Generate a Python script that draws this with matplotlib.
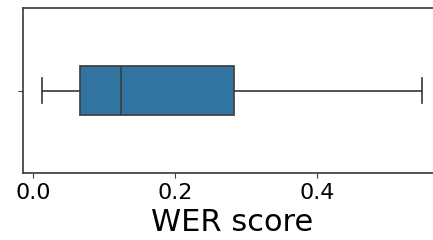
import matplotlib
matplotlib.use("Agg")
import matplotlib.pyplot as plt

# box statistics of the WER scores
label = "WER score"
whislo = 0.0127
q1 = 0.0666
med = 0.1244
q3 = 0.2830
whishi = 0.5480

stats = [dict(whislo=whislo, q1=q1, med=med, q3=q3, whishi=whishi, fliers=[])]

fig = plt.figure(figsize=(4.33, 2.4), dpi=100, facecolor='white')
ax = fig.add_axes([23/433, 67/240, 418/433, 165/240])

line = '#3f3f3f'
ax.bxp(stats, positions=[0], widths=0.3, vert=False, patch_artist=True,
       boxprops=dict(facecolor='#3274a1', edgecolor=line, linewidth=1.25),
       medianprops=dict(color=line, linewidth=1.25),
       whiskerprops=dict(color=line, linewidth=1.25),
       capprops=dict(color=line, linewidth=1.25),
       showfliers=False)

ax.set_ylim(0.5, -0.5)
ax.set_yticks([0])
ax.set_yticklabels([''])
ax.margins(x=0.05)
ax.set_xticks([0.0, 0.2, 0.4])
ax.tick_params(labelsize=16, color=line)
for s in ax.spines.values():
    s.set_color(line)
    s.set_linewidth(1.25)
ax.set_xlabel(label, fontsize=22, labelpad=4)

fig.savefig("out.png", dpi=100)
